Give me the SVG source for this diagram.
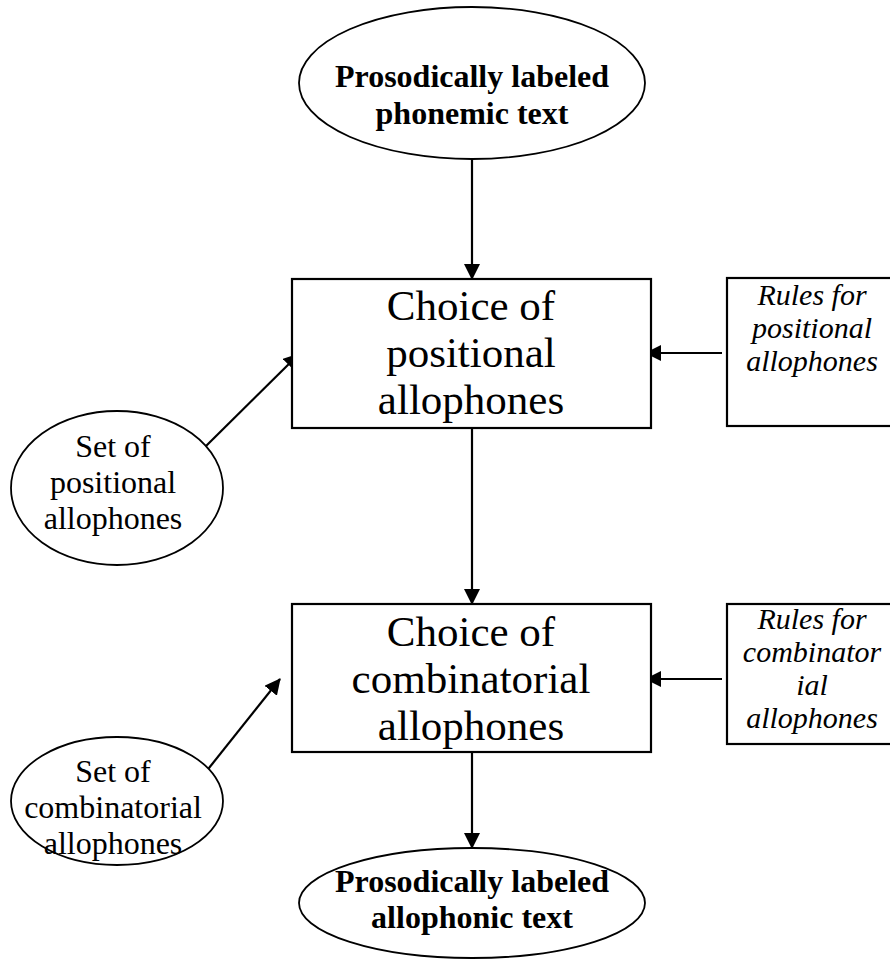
<svg xmlns="http://www.w3.org/2000/svg" width="890" height="960" viewBox="0 0 890 960">
  <defs>
    <marker id="arrow" markerUnits="userSpaceOnUse" markerWidth="16" markerHeight="16" refX="15" refY="8" orient="auto">
      <path d="M0,0 L16,8 L0,16 z" fill="#000"/>
    </marker>
    <style>
      .shape { fill: #fff; stroke: #000; }
      .oval { stroke-width: 1.8; }
      .box { stroke-width: 2.2; }
      .conn { stroke: #000; stroke-width: 2.2; fill: none; marker-end: url(#arrow); }
      text { font-family: "Liberation Serif", "Times New Roman", serif; fill: #000; text-anchor: middle; }
      .title { font-size: 32px; font-weight: bold; }
      .big { font-size: 43px; }
      .rule { font-size: 30px; font-style: italic; }
      .set { font-size: 32px; }
    </style>
  </defs>

  <rect width="890" height="960" fill="#fff"/>

  <!-- connectors -->
  <g id="connectors">
    <line class="conn" x1="472" y1="158" x2="472" y2="279"/>
    <line class="conn" x1="472" y1="428" x2="472" y2="604"/>
    <line class="conn" x1="472" y1="752" x2="472" y2="848"/>
    <line class="conn" x1="722" y1="353" x2="646" y2="353"/>
    <line class="conn" x1="722" y1="679" x2="646" y2="679"/>
    <line class="conn" x1="205" y1="447" x2="299" y2="354"/>
    <line class="conn" x1="205" y1="773" x2="280" y2="679"/>
  </g>

  <g id="phonemic-text">
    <ellipse class="shape oval" cx="472" cy="83" rx="173" ry="76"/>
    <text class="title" x="472" y="87">Prosodically labeled</text>
    <text class="title" x="472" y="124">phonemic text</text>
  </g>

  <g id="positional-choice">
    <rect class="shape box" x="292" y="279" width="359" height="149"/>
    <text class="big" x="471" y="320">Choice of</text>
    <text class="big" x="471" y="367">positional</text>
    <text class="big" x="471" y="414">allophones</text>
  </g>

  <g id="positional-rules">
    <rect class="shape box" x="727" y="278" width="180" height="148"/>
    <text class="rule" x="812" y="305">Rules for</text>
    <text class="rule" x="812" y="338">positional</text>
    <text class="rule" x="812" y="371">allophones</text>
  </g>

  <g id="positional-set">
    <ellipse class="shape oval" cx="117" cy="488" rx="106" ry="77"/>
    <text class="set" x="113" y="457">Set of</text>
    <text class="set" x="113" y="493">positional</text>
    <text class="set" x="113" y="529">allophones</text>
  </g>

  <g id="combinatorial-choice">
    <rect class="shape box" x="292" y="604" width="359" height="148"/>
    <text class="big" x="471" y="646">Choice of</text>
    <text class="big" x="471" y="693">combinatorial</text>
    <text class="big" x="471" y="740">allophones</text>
  </g>

  <g id="combinatorial-rules">
    <rect class="shape box" x="727" y="604" width="180" height="140"/>
    <text class="rule" x="812" y="629">Rules for</text>
    <text class="rule" x="812" y="662">combinator</text>
    <text class="rule" x="812" y="695">ial</text>
    <text class="rule" x="812" y="728">allophones</text>
  </g>

  <g id="combinatorial-set">
    <ellipse class="shape oval" cx="117" cy="801" rx="106" ry="64"/>
    <text class="set" x="113" y="782">Set of</text>
    <text class="set" x="113" y="818">combinatorial</text>
    <text class="set" x="113" y="854">allophones</text>
  </g>

  <g id="allophonic-text">
    <ellipse class="shape oval" cx="472" cy="903" rx="173" ry="55"/>
    <text class="title" x="472" y="892">Prosodically labeled</text>
    <text class="title" x="472" y="928">allophonic text</text>
  </g>
</svg>
